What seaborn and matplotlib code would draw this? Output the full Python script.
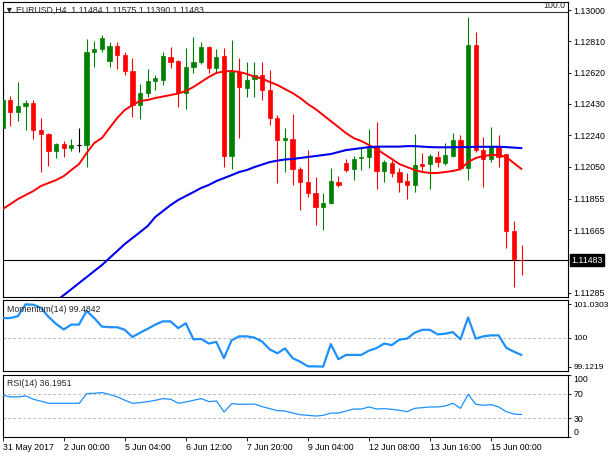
import matplotlib
matplotlib.use('Agg')

import matplotlib.pyplot as plt
import matplotlib.transforms as mtransforms
import numpy as np
import pandas as pd
import seaborn as sns

sns.set_style('white')
plt.rcParams['font.family'] = ['Liberation Sans', 'DejaVu Sans']
plt.rcParams['font.size'] = 6.3

# EURUSD H4 candles
OPEN = [
    1.12284, 1.12454, 1.12381, 1.12417, 1.12435, 1.12272, 1.12247, 1.12144, 1.12187, 1.12162,
    1.12181, 1.12181, 1.12745, 1.12763, 1.12690, 1.12781, 1.12727, 1.12630, 1.12423, 1.12496,
    1.12569, 1.12575, 1.12715, 1.12690, 1.12496, 1.12654, 1.12684, 1.12775, 1.12648, 1.12721,
    1.12114, 1.12624, 1.12527, 1.12581, 1.12605, 1.12514, 1.12344, 1.12211, 1.12217, 1.12035,
    1.11956, 1.11889, 1.11804, 1.11829, 1.11956, 1.12071, 1.12035, 1.12102, 1.12108, 1.12174,
    1.12023, 1.12071, 1.12017, 1.11962, 1.11938, 1.12065, 1.12065, 1.12108, 1.12071, 1.12114,
    1.12211, 1.12041, 1.12788, 1.12150, 1.12096, 1.12168, 1.12126, 1.11659, 1.11484,
]
HIGH = [
    1.12527, 1.12478, 1.12563, 1.12454, 1.12454, 1.12344, 1.12253, 1.12193, 1.12205, 1.12217,
    1.12284, 1.12824, 1.12812, 1.12848, 1.12806, 1.12806, 1.12745, 1.12709, 1.12551, 1.12642,
    1.12605, 1.12745, 1.12775, 1.12696, 1.12769, 1.12836, 1.12806, 1.12781, 1.12763, 1.12769,
    1.12818, 1.12709, 1.12684, 1.12684, 1.12684, 1.12636, 1.12363, 1.12284, 1.12369, 1.12047,
    1.12150, 1.11986, 1.11889, 1.12041, 1.11992, 1.12096, 1.12114, 1.12162, 1.12278, 1.12320,
    1.12089, 1.12089, 1.12041, 1.12011, 1.12247, 1.12132, 1.12126, 1.12144, 1.12193, 1.12253,
    1.12241, 1.12958, 1.12866, 1.12229, 1.12290, 1.12241, 1.12126, 1.11719, 1.11575,
]
LOW = [
    1.12272, 1.12296, 1.12326, 1.12272, 1.12217, 1.12017, 1.12053, 1.12102, 1.12108, 1.12144,
    1.12138, 1.12047, 1.12654, 1.12745, 1.12654, 1.12642, 1.12605, 1.12351, 1.12338, 1.12472,
    1.12514, 1.12545, 1.12648, 1.12411, 1.12399, 1.12618, 1.12672, 1.12618, 1.12618, 1.12047,
    1.12035, 1.12223, 1.12472, 1.12472, 1.12454, 1.12302, 1.11950, 1.12017, 1.11938, 1.11786,
    1.11865, 1.11695, 1.11665, 1.11822, 1.11926, 1.12017, 1.11968, 1.12029, 1.12041, 1.11913,
    1.11956, 1.11986, 1.11895, 1.11853, 1.11895, 1.12017, 1.11913, 1.12047, 1.12059, 1.12108,
    1.12029, 1.11968, 1.12138, 1.11926, 1.12077, 1.12047, 1.11555, 1.11319, 1.11390,
]
CLOSE = [
    1.12454, 1.12381, 1.12417, 1.12435, 1.12272, 1.12247, 1.12144, 1.12187, 1.12162, 1.12181,
    1.12181, 1.12745, 1.12763, 1.12830, 1.12781, 1.12727, 1.12630, 1.12423, 1.12496, 1.12569,
    1.12587, 1.12721, 1.12684, 1.12496, 1.12654, 1.12684, 1.12775, 1.12648, 1.12715, 1.12114,
    1.12624, 1.12533, 1.12575, 1.12605, 1.12514, 1.12344, 1.12211, 1.12223, 1.12035, 1.11956,
    1.11889, 1.11804, 1.11829, 1.11962, 1.11938, 1.12029, 1.12096, 1.12108, 1.12162, 1.12023,
    1.12077, 1.12011, 1.11956, 1.11938, 1.12059, 1.12053, 1.12114, 1.12077, 1.12120, 1.12211,
    1.12041, 1.12788, 1.12150, 1.12096, 1.12168, 1.12108, 1.11659, 1.11489, 1.11483,
]

# moving averages (red fast, blue slow)
MA_FAST = [
    1.11792, 1.11822, 1.11853, 1.11877, 1.11901, 1.11932, 1.11950, 1.11968, 1.11992, 1.12029,
    1.12065, 1.12132, 1.12193, 1.12223, 1.12284, 1.12344, 1.12393, 1.12423, 1.12448, 1.12454,
    1.12466, 1.12475, 1.12484, 1.12493, 1.12508, 1.12533, 1.12563, 1.12593, 1.12618, 1.12627,
    1.12630, 1.12624, 1.12612, 1.12596, 1.12584, 1.12563, 1.12545, 1.12520, 1.12496, 1.12466,
    1.12429, 1.12399, 1.12363, 1.12326, 1.12290, 1.12253, 1.12223, 1.12205, 1.12181, 1.12156,
    1.12126, 1.12096, 1.12065, 1.12047, 1.12029, 1.12017, 1.12011, 1.12011, 1.12017, 1.12023,
    1.12035, 1.12077, 1.12102, 1.12114, 1.12120, 1.12120, 1.12108, 1.12071, 1.12035,
]
MA_SLOW = [
    np.nan, np.nan, np.nan, np.nan, np.nan, np.nan, 1.11203, 1.11234, 1.11270, 1.11306,
    1.11343, 1.11379, 1.11416, 1.11452, 1.11495, 1.11537, 1.11580, 1.11616, 1.11652, 1.11689,
    1.11744, 1.11780, 1.11816, 1.11847, 1.11871, 1.11895, 1.11920, 1.11938, 1.11962, 1.11980,
    1.11998, 1.12017, 1.12029, 1.12047, 1.12062, 1.12077, 1.12086, 1.12093, 1.12096, 1.12102,
    1.12108, 1.12114, 1.12120, 1.12126, 1.12138, 1.12150, 1.12156, 1.12162, 1.12168, 1.12171,
    1.12171, 1.12171, 1.12171, 1.12174, 1.12174, 1.12171, 1.12168, 1.12167, 1.12167, 1.12167,
    1.12168, 1.12168, 1.12170, 1.12170, 1.12170, 1.12170, 1.12168, 1.12165, 1.12162,
]

MOMENTUM = [
    100.61, 100.61, 100.67, 101.03, 101.02, 100.93, 100.65, 100.43, 100.26, 100.41,
    100.41, 100.83, 100.61, 100.35, 100.33, 100.33, 100.25, 100.03, 100.16, 100.28,
    100.41, 100.51, 100.51, 100.30, 100.45, 99.96, 99.97, 99.83, 99.88, 99.38,
    99.93, 100.05, 100.05, 100.01, 99.89, 99.65, 99.53, 99.68, 99.38, 99.27,
    99.13, 99.13, 99.12, 99.81, 99.35, 99.48, 99.48, 99.48, 99.61, 99.69,
    99.83, 99.78, 99.95, 99.98, 100.16, 100.25, 100.25, 100.11, 100.13, 100.18,
    99.96, 100.63, 99.98, 100.05, 100.08, 100.08, 99.70, 99.58, 99.48,
]
RSI = [
    67.3, 64.6, 64.6, 66.2, 60.8, 57.6, 54.3, 54.3, 54.3, 54.3,
    54.3, 70.0, 70.5, 71.6, 68.4, 64.6, 59.2, 54.3, 55.4, 57.0,
    59.2, 61.9, 60.8, 54.3, 56.5, 59.2, 61.9, 57.0, 58.1, 40.3,
    53.8, 52.7, 52.7, 53.2, 48.9, 45.7, 42.4, 41.9, 38.6, 35.9,
    34.9, 33.8, 34.9, 38.6, 38.6, 41.9, 45.1, 45.1, 48.4, 45.1,
    45.7, 44.6, 43.0, 40.8, 46.2, 47.3, 48.4, 48.4, 50.0, 54.3,
    46.2, 68.9, 52.7, 51.1, 52.2, 48.4, 40.8, 37.0, 36.2,
]

XTICK_BARS = [0, 8, 16, 24, 32, 40, 48, 56, 64]
XTICK_LABELS = ['31 May 2017', '2 Jun 00:00', '5 Jun 04:00', '6 Jun 12:00', '7 Jun 20:00',
                '9 Jun 04:00', '12 Jun 08:00', '13 Jun 16:00', '15 Jun 00:00']
PRICE_TICKS = [1.13000, 1.12810, 1.12620, 1.12430, 1.12240, 1.12050, 1.11855, 1.11665, 1.11285]
LAST_PRICE = 1.11483
MOM_TICKS = [101.0303, 100, 99.1219]
MOM_LABELS = ['101.0303', '100', '99.1219']
RSI_TICKS = [100, 70, 30, 0]
TITLE = '\u25bc EURUSD,H4  1.11484 1.11575 1.11390 1.11483'

GREEN = '#008000'
RED = '#ff0000'
LINE_BLUE = '#1e90ff'

df = pd.DataFrame({'open': OPEN, 'high': HIGH, 'low': LOW, 'close': CLOSE})
df['bar'] = np.arange(len(df))
df['color'] = np.where(df['close'] > df['open'], GREEN,
                       np.where(df['close'] < df['open'], RED, 'black'))

fig = plt.figure(figsize=(6.1, 4.57), dpi=100)
ax_p = fig.add_axes([0.0049, 0.3501, 0.9262, 0.6455])
ax_m = fig.add_axes([0.0049, 0.1891, 0.9262, 0.1545])
ax_r = fig.add_axes([0.0049, 0.0438, 0.9262, 0.1357])

for ax in (ax_p, ax_m, ax_r):
    ax.set_facecolor('white')
    ax.set_xlim(0.04, 74.09)
    for sp in ax.spines.values():
        sp.set_color('black')
        sp.set_linewidth(0.8)
    ax.yaxis.tick_right()
    ax.tick_params(axis='y', which='both', right=True, direction='out', length=2,
                   width=0.6, pad=2, labelsize=6.3, colors='black')
    ax.grid(False)

# --- price panel
ax_p.vlines(df['bar'], df['low'], df['high'], colors=df['color'], linewidth=0.8, zorder=2)
ax_p.bar(df['bar'], df['close'] - df['open'], bottom=df['open'], width=0.56,
         color=df['color'], edgecolor=df['color'], linewidth=0.5, zorder=3)
doji = df[df['close'] == df['open']]
ax_p.hlines(doji['close'], doji['bar'] - 0.3, doji['bar'] + 0.3, colors='black', linewidth=0.8, zorder=3)

sns.lineplot(x=df['bar'], y=MA_FAST, ax=ax_p, color='red', linewidth=1.4, zorder=4)
sns.lineplot(x=df['bar'], y=MA_SLOW, ax=ax_p, color='#0000ee', linewidth=1.5, zorder=4)

ax_p.axhline(LAST_PRICE, color='black', linewidth=0.8, zorder=1)
ax_p.axhline(1.12988, color='#333333', linewidth=0.8, zorder=1)
ax_p.set_ylim(1.112585, 1.130485)
ax_p.set_yticks(PRICE_TICKS)
ax_p.set_yticklabels([f'{v:.5f}' for v in PRICE_TICKS])
ax_p.tick_params(axis='x', bottom=False, labelbottom=False)
ax_p.set_xlabel('')
ax_p.set_ylabel('')
ax_p.text(0.004, 0.973, TITLE, transform=ax_p.transAxes, ha='left', va='center', fontsize=6.3)
ax_p.text(0.996, 0.987, '100.0', transform=ax_p.transAxes, ha='right', va='center', fontsize=6.3)
trans = mtransforms.blended_transform_factory(ax_p.transAxes, ax_p.transData)
ax_p.text(1.006, LAST_PRICE, f'{LAST_PRICE:.5f}', transform=trans, ha='left', va='center',
          fontsize=6.3, color='white', clip_on=False,
          bbox=dict(facecolor='black', edgecolor='black', pad=1.2))

# --- momentum panel
ax_m.axhline(100, color='#aaaaaa', linewidth=0.6, linestyle=(0, (3, 3)), zorder=1)
sns.lineplot(x=df['bar'], y=MOMENTUM, ax=ax_m, color=LINE_BLUE, linewidth=1.6, zorder=3)
ax_m.set_ylim(99.0, 101.165)
ax_m.set_yticks(MOM_TICKS)
ax_m.set_yticklabels(MOM_LABELS, fontsize=6.0)
ax_m.tick_params(axis='x', bottom=False, labelbottom=False)
ax_m.set_xlabel('')
ax_m.set_ylabel('')
ax_m.text(0.007, 0.868, 'Momentum(14) 99.4842', transform=ax_m.transAxes,
          ha='left', va='center', fontsize=6.3)

# --- RSI panel
for lvl in (70, 30):
    ax_r.axhline(lvl, color='#aaaaaa', linewidth=0.6, linestyle=(0, (3, 3)), zorder=1)
sns.lineplot(x=df['bar'], y=RSI, ax=ax_r, color=LINE_BLUE, linewidth=0.9, zorder=3)
ax_r.set_ylim(0, 100)
ax_r.set_yticks(RSI_TICKS)
ax_r.set_yticklabels([str(v) for v in RSI_TICKS])
labels = ax_r.get_yticklabels()
labels[0].set_va('top')
labels[-1].set_va('bottom')
ax_r.set_xticks(XTICK_BARS)
ax_r.set_xticklabels(XTICK_LABELS, ha='left')
ax_r.tick_params(axis='x', bottom=True, direction='out', length=3, width=0.6, pad=1.5,
                 labelsize=6.3, colors='black')
ax_r.set_xlabel('')
ax_r.set_ylabel('')
ax_r.text(0.007, 0.87, 'RSI(14) 36.1951', transform=ax_r.transAxes,
          ha='left', va='center', fontsize=6.3)

fig.savefig('out.png', dpi=100)
